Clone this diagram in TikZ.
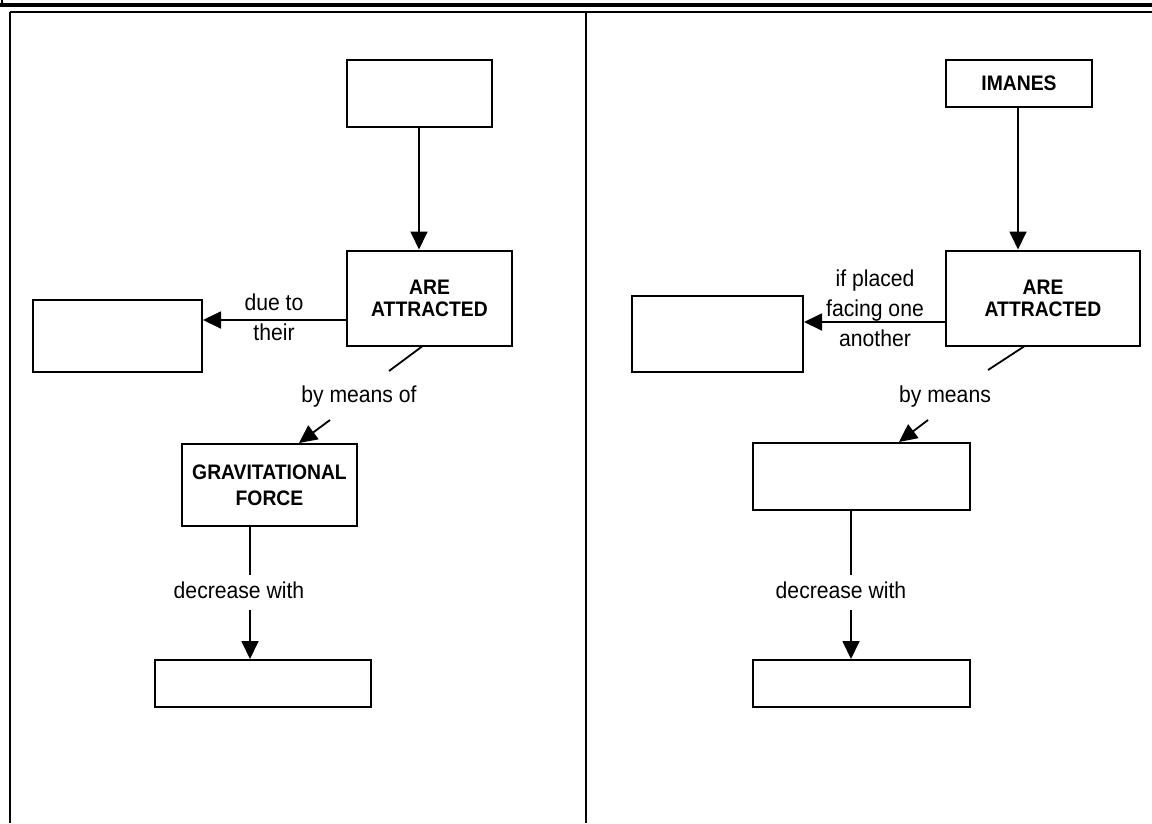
\documentclass[tikz,border=0pt]{standalone}
\usepackage{fontspec}
\setmainfont[FakeStretch=0.92]{Liberation Sans}
\usetikzlibrary{arrows.meta}
\begin{document}
\begin{tikzpicture}[x=1pt,y=-1pt,
  box/.style={draw,line width=2pt,inner sep=0pt,align=center,font=\fontsize{21}{22}\selectfont\bfseries},
  lbl/.style={inner sep=0pt,align=center,font=\fontsize{23}{30}\selectfont},
  conn/.style={line width=1.8pt},
  arr/.style={line width=1.8pt,-{Triangle[length=18pt,width=17pt]}},
  frame/.style={line width=2.6pt}]
\useasboundingbox (0,0) rectangle (1152,823);
% frame
\draw[line width=3.5pt] (0,5) -- (1152,5);
\draw[frame] (10,12) -- (1152,12);
\draw[frame] (10,12) -- (10,823);
\draw[frame] (586,12) -- (586,823);
\draw[line width=1.2pt] (2,0) -- (2,6) -- (6,6);
% left panel
\node[box,minimum width=145pt,minimum height=67pt] (t1) at (419.5,93.5) {};
\node[box,minimum width=165pt,minimum height=95pt] (a1) at (429.5,298) {ARE\\ATTRACTED};
\node[box,minimum width=169pt,minimum height=72pt] (l1) at (117.5,336) {};
\node[box,minimum width=175pt,minimum height=82pt,font=\fontsize{21}{26}\selectfont\bfseries] (g1) at (269.5,485) {GRAVITATIONAL\\FORCE};
\node[box,minimum width=216pt,minimum height=47pt] (b1) at (263,683.5) {};
\draw[arr] (t1.south -| 419,0) -- (a1.north -| 419,0);
\draw[arr] (a1.west |- 0,320) -- (l1.east |- 0,320);
\node[lbl] (lab1) at (274,317) {due to\\their};
\coordinate (dA) at (389,371);
\coordinate (dB) at (330,420);
\draw[conn] (a1.south -| 422,0) -- (dA);
\draw[arr] (dB) -- (g1.north -| 299,0);
\node[lbl] (lab2) at (359,397) {by means of};
\coordinate (eA) at (250,575);
\coordinate (eB) at (250,610);
\draw[conn] (g1.south -| 250,0) -- (eA);
\draw[arr] (eB) -- (b1.north -| 250,0);
\node[lbl] (lab3) at (239,590) {decrease with};
% right panel
\node[box,minimum width=146pt,minimum height=47pt] (t2) at (1019,83.5) {IMANES};
\node[box,minimum width=194pt,minimum height=95pt] (a2) at (1043,298) {ARE\\ATTRACTED};
\node[box,minimum width=171pt,minimum height=76pt] (l2) at (717.5,334) {};
\node[box,minimum width=217pt,minimum height=67pt] (m2) at (861.5,476.5) {};
\node[box,minimum width=217pt,minimum height=47pt] (b2) at (861.5,683.5) {};
\draw[arr] (t2.south -| 1018,0) -- (a2.north -| 1018,0);
\draw[arr] (a2.west |- 0,322) -- (l2.east |- 0,322);
\node[lbl] (lab4) at (875,308) {if placed\\facing one\\another};
\coordinate (fA) at (988,370);
\coordinate (fB) at (928,420);
\draw[conn] (a2.south -| 1024,0) -- (fA);
\draw[arr] (fB) -- (m2.north -| 899,0);
\node[lbl] (lab5) at (945,397) {by means};
\coordinate (gA) at (851,575);
\coordinate (gB) at (851,610);
\draw[conn] (m2.south -| 851,0) -- (gA);
\draw[arr] (gB) -- (b2.north -| 851,0);
\node[lbl] (lab6) at (841,590) {decrease with};
\end{tikzpicture}
\end{document}
